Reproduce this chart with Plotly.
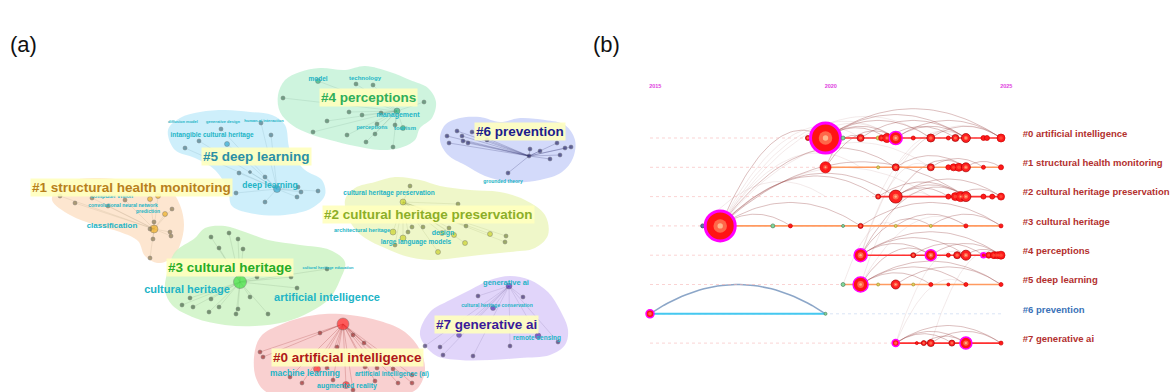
import numpy as np
import plotly.graph_objects as go

FONT = "Liberation Sans Narrow, Liberation Sans, Arial, sans-serif"

# ================= Panel (a): cluster network (layout in pixel units) =================
A_LABELS = ["#0 artificial intelligence", "#1 structural health monitoring",
            "#2 cultural heritage preservation", "#3 cultural heritage",
            "#4 perceptions", "#5 deep learning", "#6 prevention", "#7 generative ai"]
A_LABEL_X = [347, 131, 428, 230, 368, 256, 520, 486]
A_LABEL_Y = [357, 187, 214, 267, 97, 156, 131, 324]
A_LABEL_COLORS = ["#b01818", "#b8801c", "#8cae28", "#26ac26", "#2fae5a", "#2a8fa6", "#1c1c8c", "#3a1a9a"]
BLOB_COLORS = ["rgba(247,192,192,0.75)", "rgba(252,222,192,0.75)", "rgba(236,246,192,0.85)",
               "rgba(206,243,196,0.85)", "rgba(198,242,216,0.85)", "rgba(198,236,250,0.85)",
               "rgba(206,214,250,0.9)", "rgba(222,208,250,0.9)"]
NODE_COLORS = ["#a03030", "#8a7a50", "#7a8a40", "#4a6a4a", "#4a7a60", "#4a7a8a", "#303070", "#403070"]
ACCENT_COLORS = ["#ff2a2a", "#f0b020", "#ccd42c", "#40e040", "#30b080", "#30a8d0", "#303080", "#5030b0"]

HULL_0 = [(255,350),(262,335),(280,325),(300,318),(325,314),(350,315),(380,321),(405,332),(420,350),(425,370),(418,388),(405,394),(270,394),(256,378)]
HULL_1 = [(52,200),(58,188),(75,180),(100,178),(125,180),(150,184),(170,190),(180,205),(184,225),(180,245),(172,258),(158,263),(145,256),(138,241),(120,232),(95,225),(70,215)]
HULL_2 = [(345,200),(355,188),(375,182),(395,177),(420,180),(440,186),(470,190),(500,192),(525,200),(545,215),(548,235),(535,248),(510,252),(480,255),(455,258),(430,260),(405,256),(385,248),(365,238),(352,225)]
HULL_3 = [(168,270),(175,252),(195,238),(205,228),(225,226),(245,232),(268,240),(300,245),(330,250),(345,262),(340,280),(330,298),(310,312),(285,322),(255,326),(225,325),(195,318),(172,305),(165,290)]
HULL_4 = [(278,95),(285,80),(300,72),(320,68),(345,70),(365,66),(390,72),(410,80),(428,88),(436,102),(432,118),(420,128),(415,140),(400,148),(380,150),(355,146),(330,140),(310,134),(292,125),(280,112)]
HULL_5 = [(168,130),(180,118),(200,112),(225,110),(250,112),(272,115),(285,125),(290,150),(305,170),(322,180),(325,195),(312,208),(285,215),(255,214),(232,206),(228,190),(215,170),(195,158),(175,150)]
HULL_6 = [(440,140),(445,125),(460,118),(480,117),(500,122),(520,118),(545,120),(565,125),(575,140),(573,158),(562,172),(540,180),(510,182),(485,176),(465,165),(448,155)]
HULL_7 = [(420,335),(430,312),(450,300),(470,290),(490,280),(510,276),(530,280),(548,292),(560,310),(568,330),(565,345),(550,355),(520,358),(490,360),(460,360),(435,355)]
HULLS = [HULL_0, HULL_1, HULL_2, HULL_3, HULL_4, HULL_5, HULL_6, HULL_7]

NODES_0 = [(343,324,12),(320,333,4),(364,343,4),(353,335,4),(260,352,4),(263,357,4),(337,347,4),(317,369,7),(327,368,4),(365,367,4),(377,368,4),(393,369,4),(412,375,4),(290,377,4),(302,383,4),(333,380,4),(346,385,7),(375,381,4),(398,383,4),(412,383,4),(353,390,4)]
NODES_1 = [(154,229,8),(60,196,4),(75,203,4),(92,198,4),(150,199,5),(158,196,5),(108,206,4),(172,209,4),(165,214,5),(150,229,4),(153,239,4),(170,232,4),(171,236,4),(150,258,4),(154,222,4),(125,200,4)]
NODES_2 = [(403,202,6),(410,186,4),(458,204,4),(393,232,6),(408,232,4),(412,227,4),(423,227,4),(442,233,5),(449,228,4),(454,235,5),(466,226,4),(490,234,5),(506,236,4),(505,242,4),(403,238,6),(395,245,4),(465,243,5),(438,252,5)]
NODES_3 = [(240,282,13),(211,237,4),(229,233,4),(238,239,4),(219,248,4),(243,249,4),(257,277,4),(291,277,4),(297,288,4),(250,297,4),(211,299,4),(190,298,4),(182,305,4),(193,307,4),(209,312,4),(219,307,4),(238,309,4),(236,314,4),(268,314,4),(327,269,4)]
NODES_4 = [(397,111,6),(283,98,4),(318,81,5),(356,84,4),(373,85,4),(424,102,4),(349,112,4),(362,115,4),(381,113,4),(327,121,4),(377,124,4),(395,125,4),(403,128,5),(313,132,4),(347,135,4),(375,134,4),(366,142,4),(393,147,4)]
NODES_5 = [(277,189,7),(261,123,4),(221,129,4),(199,141,4),(185,148,4),(271,135,4),(227,144,5),(239,173,4),(265,177,4),(236,193,4),(265,202,4),(298,187,4),(301,192,4),(297,197,4),(318,191,4),(250,172,3)]
NODES_6 = [(529,156,4),(447,136,4),(457,131,4),(449,143,4),(462,136,4),(463,141,4),(468,143,4),(472,132,4),(487,140,4),(530,149,4),(540,151,4),(557,143,4),(565,148,4),(571,147,4),(560,155,4),(550,159,4),(508,173,4)]
NODES_7 = [(509,286,6),(478,296,4),(523,297,4),(493,308,5),(459,335,5),(538,336,6),(425,346,4),(440,347,4),(558,342,4),(510,346,4),(443,355,4),(473,356,4)]
NODES = [NODES_0, NODES_1, NODES_2, NODES_3, NODES_4, NODES_5, NODES_6, NODES_7]

SUB_LABELS = [
    ("intangible cultural heritage", 212, 135, 6.5),
    ("deep learning", 270, 186, 8.5),
    ("computer vision", 112, 197, 5.5),
    ("convolutional neural network", 123, 206, 5),
    ("prediction", 148, 212, 5),
    ("classification", 112, 226, 8),
    ("model", 318, 79, 6.5),
    ("technology", 365, 78, 6),
    ("management", 398, 115, 7),
    ("perceptions", 372, 128, 5.5),
    ("tourism", 405, 128, 6),
    ("grounded theory", 503, 182, 5),
    ("cultural heritage preservation", 389, 193, 6.5),
    ("architectural heritage", 362, 231, 5.5),
    ("design", 443, 233, 7),
    ("large language models", 416, 242, 6.5),
    ("cultural heritage", 187, 290, 11),
    ("artificial intelligence", 327, 298, 11),
    ("cultural heritage education", 328, 268, 4),
    ("generative ai", 506, 283, 7.5),
    ("cultural heritage conservation", 497, 306, 5),
    ("remote sensing", 537, 338, 6.5),
    ("machine learning", 305, 374, 8.5),
    ("artificial intelligence (ai)", 392, 374, 6.5),
    ("augmented reality", 347, 386, 7),
    ("diffusion model", 183, 122, 4),
    ("generative design", 223, 122, 4),
    ("human-ai interaction", 264, 121, 4),
]
SUB_COLOR = "#22b4c6"

# ================= Panel (b): timeline =================
T_YEAR_TICKS = [2015, 2020, 2025]
T_LABELS = ["#0 artificial intelligence", "#1 structural health monitoring",
            "#2 cultural heritage preservation", "#3 cultural heritage",
            "#4 perceptions", "#5 deep learning", "#6 prevention", "#7 generative ai"]
T_LABEL_COLORS = ["#b3302e", "#b3302e", "#b3302e", "#b3302e", "#b3302e", "#b3302e", "#3a72b8", "#b3302e"]
ROW_LINE_COLORS = ["#ff3030", "#ff9a60", "#ff3030", "#ff9a60", "#ff3030", "#ff9a60", "#45c8f0", "#ff3030"]

ROW0_YEARS = [2019.5, 2020.0, 2020.5, 2021.0, 2021.5, 2021.6, 2021.75, 2022.0, 2022.5, 2023.0, 2023.5, 2023.7, 2024.0, 2024.5, 2024.6, 2025.0]
ROW0_SIZES = [5, 30, 4, 7, 4, 6, 9, 13, 4, 8, 4, 7, 9, 5, 5, 8]
ROW0_KINDS = ["o", "m", "g", "o", "y", "r", "r", "m", "r", "o", "r", "o", "o", "r", "r", "r"]
ROW1_YEARS = [2020.0, 2021.5, 2022.0, 2023.0, 2023.5, 2023.65, 2023.8, 2024.0, 2024.5, 2025.0]
ROW1_SIZES = [11, 3, 7, 7, 5, 7, 8, 9, 4, 5]
ROW1_KINDS = ["r", "y", "o", "o", "r", "r", "r", "o", "r", "r"]
ROW2_YEARS = [2021.5, 2022.0, 2023.5, 2023.7, 2023.85, 2024.0, 2024.5, 2024.75, 2025.0]
ROW2_SIZES = [5, 13, 5, 8, 10, 10, 5, 5, 7]
ROW2_KINDS = ["o", "o", "r", "r", "r", "o", "r", "r", "r"]
ROW3_YEARS = [2016.5, 2017.0, 2018.5, 2019.0, 2020.5, 2021.0, 2022.0, 2023.0, 2024.0, 2025.0]
ROW3_SIZES = [4, 30, 4, 4, 3, 5, 3, 3, 4, 4]
ROW3_KINDS = ["b", "m", "g", "r", "g", "o", "y", "y", "r", "r"]
ROW4_YEARS = [2021.0, 2022.5, 2023.0, 2023.5, 2023.75, 2024.0, 2024.5, 2024.65, 2024.8, 2024.9, 2025.0]
ROW4_SIZES = [13, 5, 11, 4, 7, 10, 5, 6, 7, 7, 8]
ROW4_KINDS = ["m", "o", "m", "r", "o", "o", "m", "r", "r", "r", "r"]
ROW5_YEARS = [2020.5, 2021.0, 2021.5, 2022.0, 2022.5, 2023.0, 2023.5, 2024.0, 2025.0]
ROW5_SIZES = [4, 15, 3, 9, 3, 4, 3, 4, 4]
ROW5_KINDS = ["g", "m", "y", "o", "y", "r", "r", "r", "r"]
ROW6_YEARS = [2015.0, 2020.0]
ROW6_SIZES = [8, 3]
ROW6_KINDS = ["m", "g"]
ROW7_YEARS = [2022.0, 2022.6, 2022.8, 2023.0, 2023.6, 2024.0, 2025.0]
ROW7_SIZES = [7, 3, 5, 7, 6, 12, 4]
ROW7_KINDS = ["m", "r", "o", "o", "o", "m", "r"]
ROW_YEARS = [ROW0_YEARS, ROW1_YEARS, ROW2_YEARS, ROW3_YEARS, ROW4_YEARS, ROW5_YEARS, ROW6_YEARS, ROW7_YEARS]
ROW_SIZES = [ROW0_SIZES, ROW1_SIZES, ROW2_SIZES, ROW3_SIZES, ROW4_SIZES, ROW5_SIZES, ROW6_SIZES, ROW7_SIZES]
ROW_KINDS = [ROW0_KINDS, ROW1_KINDS, ROW2_KINDS, ROW3_KINDS, ROW4_KINDS, ROW5_KINDS, ROW6_KINDS, ROW7_KINDS]

# co-citation links: (row_from, year_from, row_to, year_to)
ARCS = [
    (0, 2020, 0, 2022), (0, 2020, 0, 2023), (0, 2020, 0, 2024), (0, 2020, 0, 2025), (0, 2021, 0, 2024),
    (0, 2022, 0, 2024), (0, 2022, 0, 2025), (0, 2023, 0, 2025), (0, 2021.75, 0, 2023.7), (0, 2020, 0, 2021.75),
    (1, 2020, 0, 2022), (1, 2023, 1, 2024.5), (1, 2024, 1, 2025), (1, 2022, 1, 2024), (1, 2020, 0, 2021),
    (2, 2022, 2, 2024), (2, 2022, 2, 2025), (2, 2021.5, 2, 2024), (2, 2023.7, 2, 2025), (2, 2022, 2, 2023.5),
    (2, 2022, 1, 2024), (3, 2017, 2, 2022), (3, 2017, 2, 2021.5), (3, 2017, 3, 2019), (3, 2017, 3, 2021),
    (3, 2017, 1, 2022), (3, 2017, 2, 2024), (3, 2017, 0, 2020), (3, 2022, 3, 2024), (3, 2021, 3, 2025),
    (3, 2023, 3, 2025), (4, 2021, 4, 2024), (4, 2021, 3, 2023), (4, 2021, 4, 2025), (4, 2023, 4, 2025),
    (4, 2022.5, 4, 2024.5), (4, 2021, 4, 2023), (4, 2024, 4, 2025), (4, 2021, 2, 2024),
    (5, 2021, 5, 2023), (5, 2021, 5, 2024), (5, 2021, 4, 2023), (5, 2022, 5, 2025), (5, 2021, 5, 2025),
    (7, 2022, 7, 2025), (7, 2022, 7, 2024), (7, 2023, 7, 2025), (7, 2022.8, 7, 2024), (7, 2022, 7, 2023.6),
]
FAINT_ARCS = [
    (3, 2017, 0, 2021), (3, 2017, 0, 2022), (3, 2017, 1, 2021), (3, 2016.5, 2, 2020), (3, 2017, 0, 2023),
    (3, 2017, 1, 2023), (3, 2017, 2, 2023), (4, 2021, 1, 2023), (5, 2021, 2, 2023), (5, 2020.5, 3, 2022),
    (7, 2022, 5, 2024), (7, 2023, 4, 2025), (4, 2021, 0, 2024), (0, 2019.5, 0, 2022), (1, 2022, 0, 2025),
    (2, 2021.5, 0, 2024), (5, 2021, 3, 2024), (7, 2022, 4, 2024),
]
PREVENTION_ARC = (6, 2015, 6, 2020)

# ================= Build figure =================
fig = go.Figure()
XA, YA = "x", "y"
XB, YB = "x2", "y2"

# blobs
for i, hull in enumerate(HULLS):
    hx = [p[0] for p in hull] + [hull[0][0]]
    hy = [p[1] for p in hull] + [hull[0][1]]
    fig.add_trace(go.Scatter(x=hx, y=hy, mode="lines", fill="toself", fillcolor=BLOB_COLORS[i],
                             line=dict(width=0, shape="spline", smoothing=1.0), hoverinfo="skip",
                             xaxis=XA, yaxis=YA))

# edges (hub to members)
for i, nodes in enumerate(NODES):
    ex, ey = [], []
    hx0, hy0 = nodes[0][0], nodes[0][1]
    for (nx, ny, s) in nodes[1:]:
        ex += [hx0, nx, None]
        ey += [hy0, ny, None]
    col = NODE_COLORS[i]
    r, g, b = int(col[1:3], 16), int(col[3:5], 16), int(col[5:7], 16)
    alpha = 0.35 if i in (0, 6) else 0.18
    fig.add_trace(go.Scatter(x=ex, y=ey, mode="lines", line=dict(color=f"rgba({r},{g},{b},{alpha})", width=0.7),
                             hoverinfo="skip", xaxis=XA, yaxis=YA))

# nodes
for i, nodes in enumerate(NODES):
    xs = [n[0] for n in nodes]
    ys = [n[1] for n in nodes]
    ss = [n[2] for n in nodes]
    cols = [ACCENT_COLORS[i] if s >= 5 else NODE_COLORS[i] for s in ss]
    fig.add_trace(go.Scatter(x=xs, y=ys, mode="markers",
                             marker=dict(size=ss, color=cols, line=dict(color="rgba(80,80,80,0.8)", width=0.6)),
                             hoverinfo="skip", xaxis=XA, yaxis=YA))

# sub labels
for (txt, x, y, s) in SUB_LABELS:
    fig.add_trace(go.Scatter(x=[x], y=[y], mode="text", text=[f"<b>{txt}</b>"],
                             textfont=dict(family=FONT, size=s, color=SUB_COLOR),
                             hoverinfo="skip", xaxis=XA, yaxis=YA))

# ---- timeline ----
def bezier(x1, y1, x2, y2, n=40):
    span = abs(x2 - x1)
    h = 0.2 * span
    cx = (x1 + x2) / 2.0
    cy = min(y1, y2) - 2 * h
    t = np.linspace(0, 1, n)
    bx = (1 - t) ** 2 * x1 + 2 * (1 - t) * t * cx + t ** 2 * x2
    by = (1 - t) ** 2 * y1 + 2 * (1 - t) * t * cy + t ** 2 * y2
    return list(bx), list(by)

def arc_trace(arcs, color, width):
    xs, ys = [], []
    for (ra, ya, rb, yb) in arcs:
        bx, by = bezier(ya, ra, yb, rb)
        xs += bx + [None]
        ys += by + [None]
    return go.Scatter(x=xs, y=ys, mode="lines", line=dict(color=color, width=width),
                      hoverinfo="skip", xaxis=XB, yaxis=YB)

fig.add_trace(arc_trace(FAINT_ARCS, "rgba(190,140,140,0.18)", 1))
fig.add_trace(arc_trace(ARCS, "rgba(150,60,60,0.33)", 1))
fig.add_trace(arc_trace([PREVENTION_ARC], "rgba(120,150,190,0.85)", 1.5))

# row lines
for r in range(8):
    faint = "rgba(200,215,240,0.7)" if r == 6 else "rgba(245,175,175,0.55)"
    fig.add_trace(go.Scatter(x=[T_YEAR_TICKS[0], T_YEAR_TICKS[-1]], y=[r, r], mode="lines",
                             line=dict(color=faint, width=1, dash="dot"), hoverinfo="skip", xaxis=XB, yaxis=YB))
    yrs = ROW_YEARS[r]
    fig.add_trace(go.Scatter(x=[min(yrs), max(yrs)], y=[r, r], mode="lines",
                             line=dict(color=ROW_LINE_COLORS[r], width=2 if r == 6 else 1.6),
                             hoverinfo="skip", xaxis=XB, yaxis=YB))

KIND_FILL = {"m": "#ff1414", "r": "#ff1a1a", "o": "#ff2020", "g": "#7fd99a", "y": "#e6cf5a", "b": "#5a7aa0"}
KIND_LINE = {"m": "#ff00ff", "r": "#d00000", "o": "#a00000", "g": "#508060", "y": "#a09030", "b": "#304060"}

ox, oy, os_, oc, olc, olw = [], [], [], [], [], []
mx, my, ms, mc = [], [], [], []
cx_, cy_, cs = [], [], []
for r in range(8):
    for yr, s, k in zip(ROW_YEARS[r], ROW_SIZES[r], ROW_KINDS[r]):
        ox.append(yr); oy.append(r); os_.append(s); oc.append(KIND_FILL[k]); olc.append(KIND_LINE[k])
        olw.append(max(1.5, 0.1 * s) if k == "m" else 0.7)
        if k in ("m", "r", "o") and (s >= 6 or k == "o"):
            mx.append(yr); my.append(r); ms.append(max(2, 0.45 * s))
            mc.append("#ff8a60" if k != "r" else "#ff5a40")
            if s >= 9:
                cx_.append(yr); cy_.append(r); cs.append(0.18 * s)
fig.add_trace(go.Scatter(x=ox, y=oy, mode="markers",
                         marker=dict(size=os_, color=oc, line=dict(color=olc, width=olw), opacity=1),
                         hoverinfo="skip", xaxis=XB, yaxis=YB))
fig.add_trace(go.Scatter(x=mx, y=my, mode="markers", marker=dict(size=ms, color=mc, line=dict(width=0)),
                         hoverinfo="skip", xaxis=XB, yaxis=YB))
fig.add_trace(go.Scatter(x=cx_, y=cy_, mode="markers", marker=dict(size=cs, color="#ffd8a8", line=dict(width=0)),
                         hoverinfo="skip", xaxis=XB, yaxis=YB))

# year labels
fig.add_trace(go.Scatter(x=[y + 0.15 for y in T_YEAR_TICKS], y=[-1.74] * len(T_YEAR_TICKS), mode="text",
                         text=[f"<b>{y}</b>" for y in T_YEAR_TICKS],
                         textfont=dict(family=FONT, size=5.5, color="#e040e0"),
                         hoverinfo="skip", xaxis=XB, yaxis=YB))
# cluster labels on the timeline
fig.add_trace(go.Scatter(x=[2025.62] * 8, y=[r - 0.12 for r in range(8)], mode="text",
                         text=[f"<b>{t}</b>" for t in T_LABELS], textposition="middle right",
                         textfont=dict(family=FONT, size=9.5, color=T_LABEL_COLORS),
                         hoverinfo="skip", xaxis=XB, yaxis=YB))

# cluster labels (a) with highlight
annotations = []
for i in range(8):
    annotations.append(dict(x=A_LABEL_X[i], y=A_LABEL_Y[i], xref="x", yref="y", showarrow=False,
                            text=f"<b>{A_LABELS[i]}</b>", bgcolor="rgba(255,255,190,0.9)", borderpad=1,
                            font=dict(family=FONT, size=13.5, color=A_LABEL_COLORS[i])))
for txt, px, py in [("(a)", 23, 45), ("(b)", 606, 45)]:
    annotations.append(dict(x=px / 1176, y=1 - py / 392, xref="paper", yref="paper", showarrow=False, text=txt,
                            xanchor="center", yanchor="middle",
                            font=dict(family="Liberation Sans, Arial, sans-serif", size=22, color="#111111")))

px_per_year = 35.1
x0 = 2015 - (650 - 588) / px_per_year
x1 = x0 + 588 / px_per_year
row_px = 29.3
ytop = -138 / row_px
ybot = ytop + 392 / row_px

fig.update_layout(
    width=1176, height=392, margin=dict(l=0, r=0, t=0, b=0),
    paper_bgcolor="white", plot_bgcolor="white", showlegend=False,
    xaxis=dict(domain=[0, 0.5], range=[0, 588], visible=False, fixedrange=True),
    yaxis=dict(domain=[0, 1], range=[392, 0], visible=False, fixedrange=True),
    xaxis2=dict(domain=[0.5, 1], range=[x0, x1], visible=False, anchor="y2", fixedrange=True),
    yaxis2=dict(domain=[0, 1], range=[ybot, ytop], visible=False, anchor="x2", fixedrange=True),
    annotations=annotations,
)

fig.write_html("out.html", config={"displayModeBar": False},
               post_script="document.body.style.margin='0px';document.body.style.overflow='hidden';")
